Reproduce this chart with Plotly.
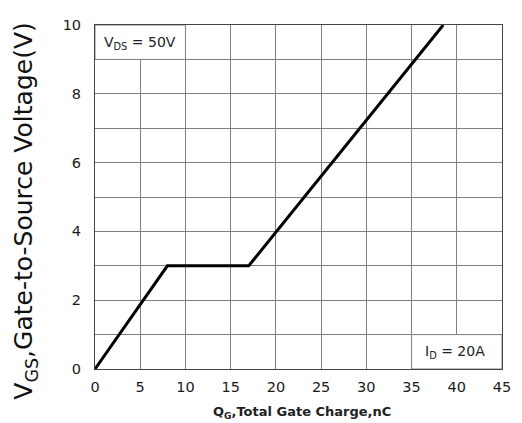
import plotly.graph_objects as go

qg = [0, 8, 17, 38.5]
vgs = [0, 3, 3, 10]
x_ticks = [0, 5, 10, 15, 20, 25, 30, 35, 40, 45]
y_ticks = [0, 2, 4, 6, 8, 10]

# page offset of the figure inside the browser window
OX, OY = 8, 8
# target plot area in window pixels
PL, PR, PT, PB = 95, 502, 17, 369
W, H = 522 - OX, 423 - OY
PW, PH = PR - PL, PB - PT

def px(x):
    return (x - PL) / PW

def py(y):
    return (PB - y) / PH

fig = go.Figure()
fig.add_trace(go.Scatter(x=qg, y=vgs, mode="lines",
                         line=dict(color="black", width=3), showlegend=False))

grid = "#808080"
tfont = dict(size=14.5, family="DejaVu Sans", color="#1a1a1a")
fig.update_layout(
    width=W, height=H,
    margin=dict(l=PL - OX, r=W - (PR - OX), t=PT - OY, b=H - (PB - OY), pad=0),
    paper_bgcolor="white", plot_bgcolor="white",
    font=dict(family="DejaVu Sans", color="#222"),
    xaxis=dict(range=[0, 45], tickvals=x_ticks, showgrid=True, gridcolor=grid, gridwidth=1,
               showline=True, linecolor="#444", linewidth=1, mirror=True, ticks="",
               zeroline=False, tickfont=tfont, ticklabelstandoff=5,
               ticklabeloverflow="allow"),
    yaxis=dict(range=[0, 10], tickvals=y_ticks, showgrid=True, gridcolor=grid, gridwidth=1,
               showline=True, linecolor="#444", linewidth=1, mirror=True, ticks="",
               zeroline=False, tickfont=tfont, ticklabelstandoff=10,
               ticklabeloverflow="allow",
               minor=dict(dtick=1, showgrid=True, gridcolor=grid, gridwidth=1)),
)

fig.add_shape(type="rect", xref="x", yref="y", x0=0, x1=10, y0=9, y1=10,
              fillcolor="white", line=dict(color=grid, width=1), layer="between")
fig.add_shape(type="rect", xref="x", yref="y", x0=35, x1=45, y0=0, y1=1,
              fillcolor="white", line=dict(color=grid, width=1), layer="between")

fig.add_annotation(x=px(102), y=py(35), xref="paper", yref="paper", xanchor="left", yanchor="middle",
                   text="V<sub>DS</sub> = 50V", showarrow=False,
                   font=dict(size=14, color="#222", family="DejaVu Sans"))
fig.add_annotation(x=px(487), y=py(352), xref="paper", yref="paper", xanchor="right", yanchor="middle",
                   text="I<sub>D</sub> = 20A", showarrow=False,
                   font=dict(size=14, color="#222", family="DejaVu Sans"))

fig.add_annotation(x=px(302), y=py(413), xref="paper", yref="paper", showarrow=False,
                   xanchor="center", yanchor="middle",
                   text="<b>Q<sub>G</sub>,Total Gate Charge,nC</b>",
                   font=dict(size=13, color="#222", family="DejaVu Sans"))

fig.add_annotation(x=px(25), y=py(208), xref="paper", yref="paper", showarrow=False,
                   textangle=-90, xanchor="center", yanchor="middle",
                   text="V<sub>GS</sub>,Gate-to-Source Voltage(V)",
                   font=dict(size=25, color="#111", family="DejaVu Sans"))

fig.write_html("out.html")
